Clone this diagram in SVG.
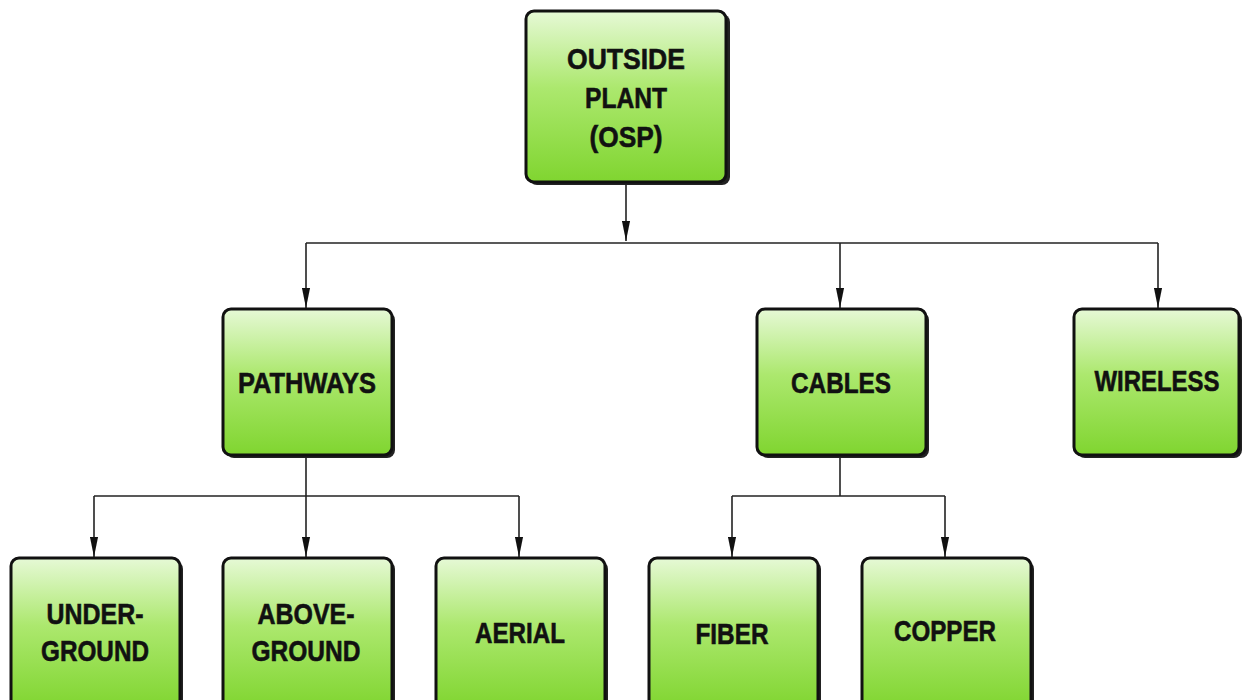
<svg xmlns="http://www.w3.org/2000/svg" width="1243" height="700" viewBox="0 0 1243 700">
<style>
.box{fill:url(#g);stroke:#111;stroke-width:3}
.sh{fill:#222}
.t{font-family:"Liberation Sans",Arial,sans-serif;font-weight:bold;font-size:30px;fill:#111;stroke:#111;stroke-width:0.6;text-anchor:middle}
.c{fill:none;stroke:#222;stroke-width:1.6}
</style>
<defs>
<linearGradient id="g" x1="0" y1="0" x2="0" y2="1">
<stop offset="0" stop-color="#e6f9d6"/>
<stop offset="0.45" stop-color="#ace86e"/>
<stop offset="1" stop-color="#80d530"/>
</linearGradient>
<marker id="a" markerWidth="20" markerHeight="9" refX="10" refY="5" orient="auto" markerUnits="userSpaceOnUse" viewBox="0 0 10 10" preserveAspectRatio="none">
<path d="M0,0.5 L10,5 L0,9.5 Z" fill="#111"/>
</marker>
</defs>
<g id="connectors">
<path class="c" d="M626,184 V241" marker-end="url(#a)"/>
<path class="c" d="M306,243 H1158"/>
<path class="c" d="M306,243 V308" marker-end="url(#a)"/>
<path class="c" d="M840,243 V308" marker-end="url(#a)"/>
<path class="c" d="M1158,243 V308" marker-end="url(#a)"/>
<path class="c" d="M306,456 V496"/>
<path class="c" d="M94,496 H519"/>
<path class="c" d="M94,496 V557" marker-end="url(#a)"/>
<path class="c" d="M306,496 V557" marker-end="url(#a)"/>
<path class="c" d="M519,496 V557" marker-end="url(#a)"/>
<path class="c" d="M840,456 V496"/>
<path class="c" d="M732,496 H945"/>
<path class="c" d="M732,496 V557" marker-end="url(#a)"/>
<path class="c" d="M945,496 V557" marker-end="url(#a)"/>
</g>
<g id="osp">
<rect class="sh" x="529" y="14" width="201" height="171" rx="8"/>
<rect class="box" x="526" y="11" width="200" height="171" rx="8"/>
<text class="t" x="626" y="69" textLength="118" lengthAdjust="spacingAndGlyphs">OUTSIDE</text>
<text class="t" x="626" y="108" textLength="82" lengthAdjust="spacingAndGlyphs">PLANT</text>
<text class="t" x="626" y="147" textLength="73" lengthAdjust="spacingAndGlyphs">(OSP)</text>
</g>
<g id="pathways">
<rect class="sh" x="226" y="312" width="169" height="146" rx="8"/>
<rect class="box" x="223" y="309" width="169" height="146" rx="8"/>
<text class="t" x="307" y="393" textLength="138" lengthAdjust="spacingAndGlyphs">PATHWAYS</text>
</g>
<g id="cables">
<rect class="sh" x="760" y="312" width="169" height="146" rx="8"/>
<rect class="box" x="757" y="309" width="169" height="146" rx="8"/>
<text class="t" x="841" y="393" textLength="100" lengthAdjust="spacingAndGlyphs">CABLES</text>
</g>
<g id="wireless">
<rect class="sh" x="1077" y="312" width="165" height="146" rx="8"/>
<rect class="box" x="1074" y="309" width="165" height="146" rx="8"/>
<text class="t" x="1157" y="391" textLength="125" lengthAdjust="spacingAndGlyphs">WIRELESS</text>
</g>
<g id="underground">
<rect class="sh" x="14" y="561" width="169" height="150" rx="8"/>
<rect class="box" x="11" y="558" width="169" height="150" rx="8"/>
<text class="t" x="95" y="624" textLength="97" lengthAdjust="spacingAndGlyphs">UNDER-</text>
<text class="t" x="95" y="661" textLength="108" lengthAdjust="spacingAndGlyphs">GROUND</text>
</g>
<g id="aboveground">
<rect class="sh" x="226" y="561" width="169" height="150" rx="8"/>
<rect class="box" x="223" y="558" width="169" height="150" rx="8"/>
<text class="t" x="306" y="624" textLength="97" lengthAdjust="spacingAndGlyphs">ABOVE-</text>
<text class="t" x="306" y="661" textLength="109" lengthAdjust="spacingAndGlyphs">GROUND</text>
</g>
<g id="aerial">
<rect class="sh" x="439" y="561" width="169" height="150" rx="8"/>
<rect class="box" x="436" y="558" width="169" height="150" rx="8"/>
<text class="t" x="520" y="643" textLength="90" lengthAdjust="spacingAndGlyphs">AERIAL</text>
</g>
<g id="fiber">
<rect class="sh" x="652" y="561" width="169" height="150" rx="8"/>
<rect class="box" x="649" y="558" width="169" height="150" rx="8"/>
<text class="t" x="732" y="644" textLength="73" lengthAdjust="spacingAndGlyphs">FIBER</text>
</g>
<g id="copper">
<rect class="sh" x="865" y="561" width="169" height="150" rx="8"/>
<rect class="box" x="862" y="558" width="169" height="150" rx="8"/>
<text class="t" x="945" y="641" textLength="102" lengthAdjust="spacingAndGlyphs">COPPER</text>
</g>
</svg>
